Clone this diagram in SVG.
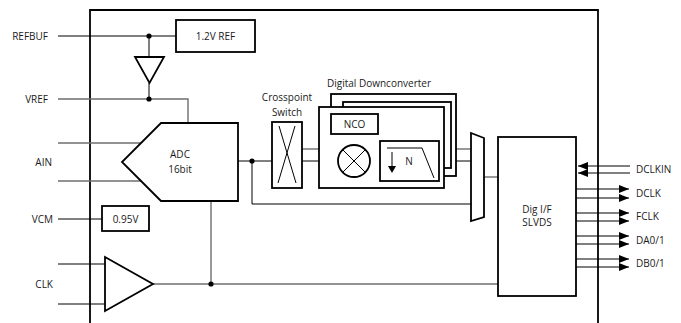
<svg xmlns="http://www.w3.org/2000/svg" width="681" height="323" viewBox="0 0 681 323">
<defs>
<style>
text{font-family:"Open Sans","Liberation Sans",Arial,sans-serif;font-size:10px;fill:#1a1a1a}
.box{fill:#fff;stroke:#000;stroke-width:1.8}
.ln{fill:none;stroke:#000;stroke-width:1}
.gl{fill:none;stroke:#6e6e6e;stroke-width:1.4}
.dot{fill:#000}
.c{text-anchor:middle}
.e{text-anchor:end}
</style>
<marker id="ah" markerUnits="userSpaceOnUse" markerWidth="10" markerHeight="8" refX="10" refY="4" orient="auto">
<path d="M0,0 L10,4 L0,8 Z" fill="#000"/>
</marker>
</defs>
<rect width="681" height="323" fill="#fff"/>
<g id="chip"><path d="M90,330 V10 H598 V330" fill="none" stroke="#000" stroke-width="1.8"/></g>

<g id="connectors">
<path class="ln" d="M58,36 H176"/>
<path class="ln" d="M149,36 V57"/>
<path class="ln" d="M149,83 V99"/>
<path class="gl" d="M58,99 H188 V123"/>
<path class="gl" d="M58,143 H142"/>
<path class="gl" d="M58,181 H142"/>
<path class="ln" d="M58,219 H102"/>
<path class="ln" d="M58,264 H105"/>
<path class="ln" d="M58,304 H105"/>
<path class="gl" d="M153,284 H498"/>
<path class="gl" d="M211,201 V284"/>
<path class="ln" d="M238,161 H272"/>
<path class="ln" d="M252,161 V204 H471"/>
<path class="gl" d="M302,149 H319"/>
<path class="ln" d="M302,161 H319"/>
<path class="ln" d="M319,161 H338"/>
<path class="ln" d="M354,134 V145"/>
<path class="ln" d="M370,161 H380"/>
<path class="gl" d="M444,149 H471"/>
<path class="ln" d="M439,161 H471"/>
<path class="gl" d="M484,177 H498"/>
<path class="ln" d="M630,166 H578" marker-end="url(#ah)"/>
<path class="ln" d="M630,173 H578" marker-end="url(#ah)"/>
<path class="ln" d="M576,189 H629" marker-end="url(#ah)"/>
<path class="ln" d="M576,198 H629" marker-end="url(#ah)"/>
<path class="ln" d="M576,213 H629" marker-end="url(#ah)"/>
<path class="ln" d="M576,221 H629" marker-end="url(#ah)"/>
<path class="ln" d="M576,236 H629" marker-end="url(#ah)"/>
<path class="ln" d="M576,244 H629" marker-end="url(#ah)"/>
<path class="ln" d="M576,259 H629" marker-end="url(#ah)"/>
<path class="ln" d="M576,267 H629" marker-end="url(#ah)"/>
<circle class="dot" cx="149" cy="36" r="2.6"/>
<circle class="dot" cx="149" cy="99" r="2.6"/>
<circle class="dot" cx="252" cy="161" r="2.6"/>
<circle class="dot" cx="211" cy="284" r="2.6"/>
</g>

<g id="pins">
<text class="e" x="48" y="39.5">REFBUF</text>
<text class="e" x="48" y="102.5">VREF</text>
<text class="e" x="52" y="165.5">AIN</text>
<text class="e" x="53" y="222.5">VCM</text>
<text class="e" x="53" y="287.5">CLK</text>
<text x="636" y="172.5">DCLKIN</text>
<text x="636" y="196.5">DCLK</text>
<text x="636" y="220">FCLK</text>
<text x="636" y="243.5">DA0/1</text>
<text x="636" y="266.5">DB0/1</text>
</g>

<g id="ref12">
<rect class="box" x="176" y="20" width="79" height="32"/>
<text class="c" x="215.5" y="39.5">1.2V REF</text>
</g>

<g id="refbuffer">
<path class="box" d="M135,57 H164 L149.5,83 Z"/>
</g>

<g id="adc">
<path class="box" d="M161,123 H238 V201 H161 L122,162 Z"/>
<text class="c" x="180" y="158">ADC</text>
<text class="c" x="180" y="173">16bit</text>
</g>

<g id="vcm">
<rect class="box" x="102" y="206" width="47" height="25"/>
<text class="c" x="125.5" y="222.5">0.95V</text>
</g>

<g id="clkbuf">
<path class="box" d="M105,257 L153,284 L105,311 Z"/>
</g>

<g id="crosspoint">
<text class="c" x="287" y="101">Crosspoint</text>
<text class="c" x="287" y="116">Switch</text>
<rect class="box" x="272" y="122" width="30" height="66"/>
<path class="ln" d="M279,126 L296,183 M295,126 L278,183"/>
</g>

<g id="ddc">
<text class="c" x="379" y="87">Digital Downconverter</text>
<rect class="box" x="331" y="94" width="125" height="82"/>
<rect class="box" x="343" y="102" width="108" height="66"/>
<rect class="box" x="319" y="107" width="125" height="81"/>
<g id="nco">
<rect class="box" x="331" y="114" width="47" height="20"/>
<text class="c" x="354.5" y="127.5">NCO</text>
</g>
<g id="mixer">
<circle class="box" cx="354" cy="161" r="16"/>
<path class="ln" d="M342.7,149.7 L365.3,172.3 M365.3,149.7 L342.7,172.3" stroke-width="1.6"/>
</g>
<g id="filter">
<rect class="box" x="380" y="141" width="59" height="40"/>
<path class="ln" d="M387,148 H422 L434,178"/>
<path class="ln" d="M392,152 V167" stroke-width="1.4"/>
<path d="M388,166 L396,166 L392,173 Z" fill="#000"/>
<text class="c" x="409" y="164.5">N</text>
</g>
</g>

<g id="mux">
<path class="box" d="M471,133 L484,138 V217 L471,221 Z"/>
</g>

<g id="digif">
<rect class="box" x="498" y="137" width="78" height="159"/>
<text class="c" x="537" y="213">Dig I/F</text>
<text class="c" x="537" y="226">SLVDS</text>
</g>
</svg>
